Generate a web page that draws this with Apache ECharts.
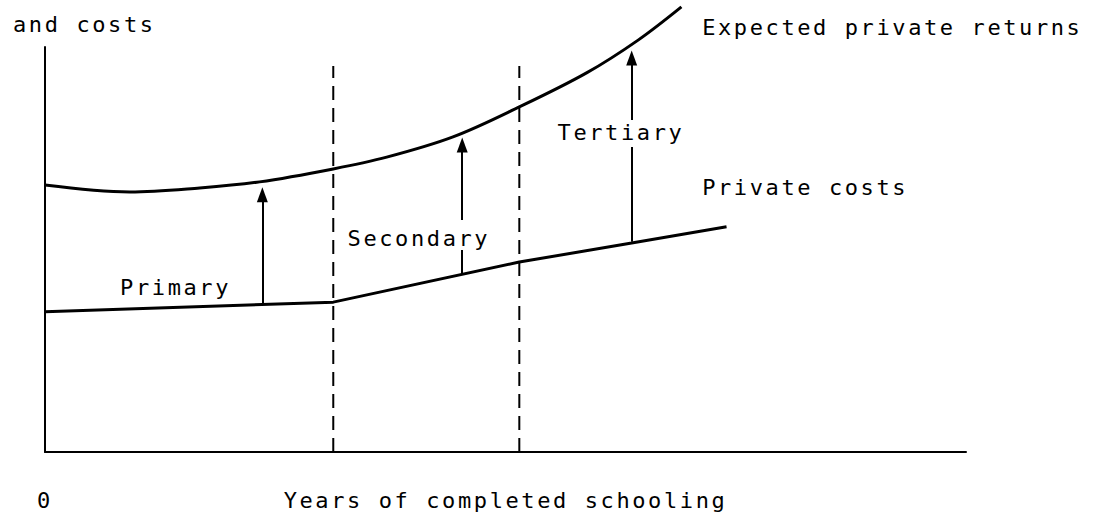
<!DOCTYPE html>
<html>
<head>
<meta charset="utf-8">
<script src="https://cdn.jsdelivr.net/npm/echarts@6/dist/echarts.min.js"></script>
<style>
    html, body { margin: 0; padding: 0; background: #fff; }
    #chart { width: 1100px; height: 521px; }
    #chart text { letter-spacing: 2.6px; }
</style>
</head>
<body>
<div id="chart"></div>
<script>
// expected private returns curve
const returns_x = [0, 9.2, 16.8, 23.3, 31.3, 37.1, 44.3, 51.5, 58.8, 64.4, 69.1];
const returns_y = [65.9, 64.2, 65.2, 66.7, 69.9, 72.8, 77.8, 85.2, 93.6, 101.7, 109.9];

// private costs line
const costs_x = [0, 31.3, 51.5, 63.7, 74.0];
const costs_y = [34.6, 37.0, 46.9, 51.6, 55.6];

// end of primary / secondary schooling
const stage_bounds = [31.3, 51.5];
const stage_top = 95.3;

// arrows: x, from, to
const head_x = [23.6, 45.3, 63.7];
const head_from = [36.8, 57.3, 82.0];
const head_to = [63.5, 75.8, 97.3];
// arrow pieces below the text
const stem_x = [45.3, 63.7];
const stem_from = [44.2, 51.9];
const stem_to = [49.9, 75.3];

const labels_text = ['Primary', 'Secondary', 'Tertiary', 'Private costs', 'Expected private returns'];
const labels_x = [8.1, 32.8, 55.6, 71.3, 71.3];
const labels_y = [40.5, 52.8, 78.8, 65.4, 104.9];

const FONT = 'DejaVu Sans Mono';
const FONT_SIZE = 22;
const INK = '#000';

function zip(xs, ys) {
    return xs.map((x, i) => [x, ys[i]]);
}

function drawChart() {
    const myChart = echarts.init(document.getElementById('chart'), null, {renderer: 'svg'});

    const bound_series = stage_bounds.map(x => ({
        type: 'line',
        data: [[x, 0], [x, stage_top]],
        symbol: 'none',
        silent: true,
        lineStyle: {color: INK, width: 2, type: [14, 8]}
    }));

    const option = {
        animation: false,
        backgroundColor: '#fff',
        textStyle: {fontFamily: FONT, color: INK, fontSize: FONT_SIZE},
        title: {
            text: 'and costs',
            left: 8,
            top: 8,
            textStyle: {fontFamily: FONT, fontSize: FONT_SIZE, fontWeight: 'normal', color: INK}
        },
        grid: {left: 45, right: 134, top: 47, bottom: 69, containLabel: false, outerBoundsMode: 'none'},
        xAxis: {
            type: 'value',
            min: 0,
            max: 100,
            interval: 100,
            name: 'Years of completed schooling',
            nameLocation: 'middle',
            nameGap: 48,
            nameMoveOverlap: false,
            nameTextStyle: {fontFamily: FONT, fontSize: FONT_SIZE, color: INK, verticalAlign: 'middle'},
            axisLine: {lineStyle: {color: INK, width: 2}},
            axisTick: {show: false},
            splitLine: {show: false},
            axisLabel: {
                margin: 37,
                fontFamily: FONT,
                fontSize: FONT_SIZE,
                color: INK,
                formatter: v => (v === 0 ? '0' : '')
            }
        },
        yAxis: {
            type: 'value',
            min: 0,
            max: 100,
            axisLine: {show: true, lineStyle: {color: INK, width: 2}},
            axisTick: {show: false},
            axisLabel: {show: false},
            splitLine: {show: false}
        },
        series: [
            {
                name: 'Expected private returns',
                type: 'line',
                data: zip(returns_x, returns_y),
                smooth: 0.35,
                symbol: 'none',
                clip: false,
                lineStyle: {color: INK, width: 3}
            },
            {
                name: 'Private costs',
                type: 'line',
                data: zip(costs_x, costs_y),
                symbol: 'none',
                lineStyle: {color: INK, width: 3}
            },
            ...bound_series,
            {
                type: 'line',
                data: [],
                silent: true,
                markLine: {
                    silent: true,
                    symbol: ['none', 'triangle'],
                    symbolSize: [11, 15],
                    label: {show: false},
                    lineStyle: {color: INK, width: 2, type: 'solid'},
                    data: head_x.map((x, i) => [{coord: [x, head_from[i]]}, {coord: [x, head_to[i]]}])
                }
            },
            {
                type: 'line',
                data: [],
                silent: true,
                markLine: {
                    silent: true,
                    symbol: ['none', 'none'],
                    label: {show: false},
                    lineStyle: {color: INK, width: 2, type: 'solid'},
                    data: stem_x.map((x, i) => [{coord: [x, stem_from[i]]}, {coord: [x, stem_to[i]]}])
                }
            },
            {
                type: 'scatter',
                data: zip(labels_x, labels_y),
                symbolSize: 1,
                clip: false,
                silent: true,
                // scatter defaults to opacity 0.8, which the labels would inherit
                itemStyle: {color: 'rgba(0,0,0,0)', opacity: 1},
                label: {
                    show: true,
                    position: 'right',
                    distance: 0,
                    fontFamily: FONT,
                    fontSize: FONT_SIZE,
                    color: INK,
                    formatter: params => labels_text[params.dataIndex]
                }
            }
        ]
    };

    myChart.setOption(option);
}

drawChart();
</script>
</body>
</html>
